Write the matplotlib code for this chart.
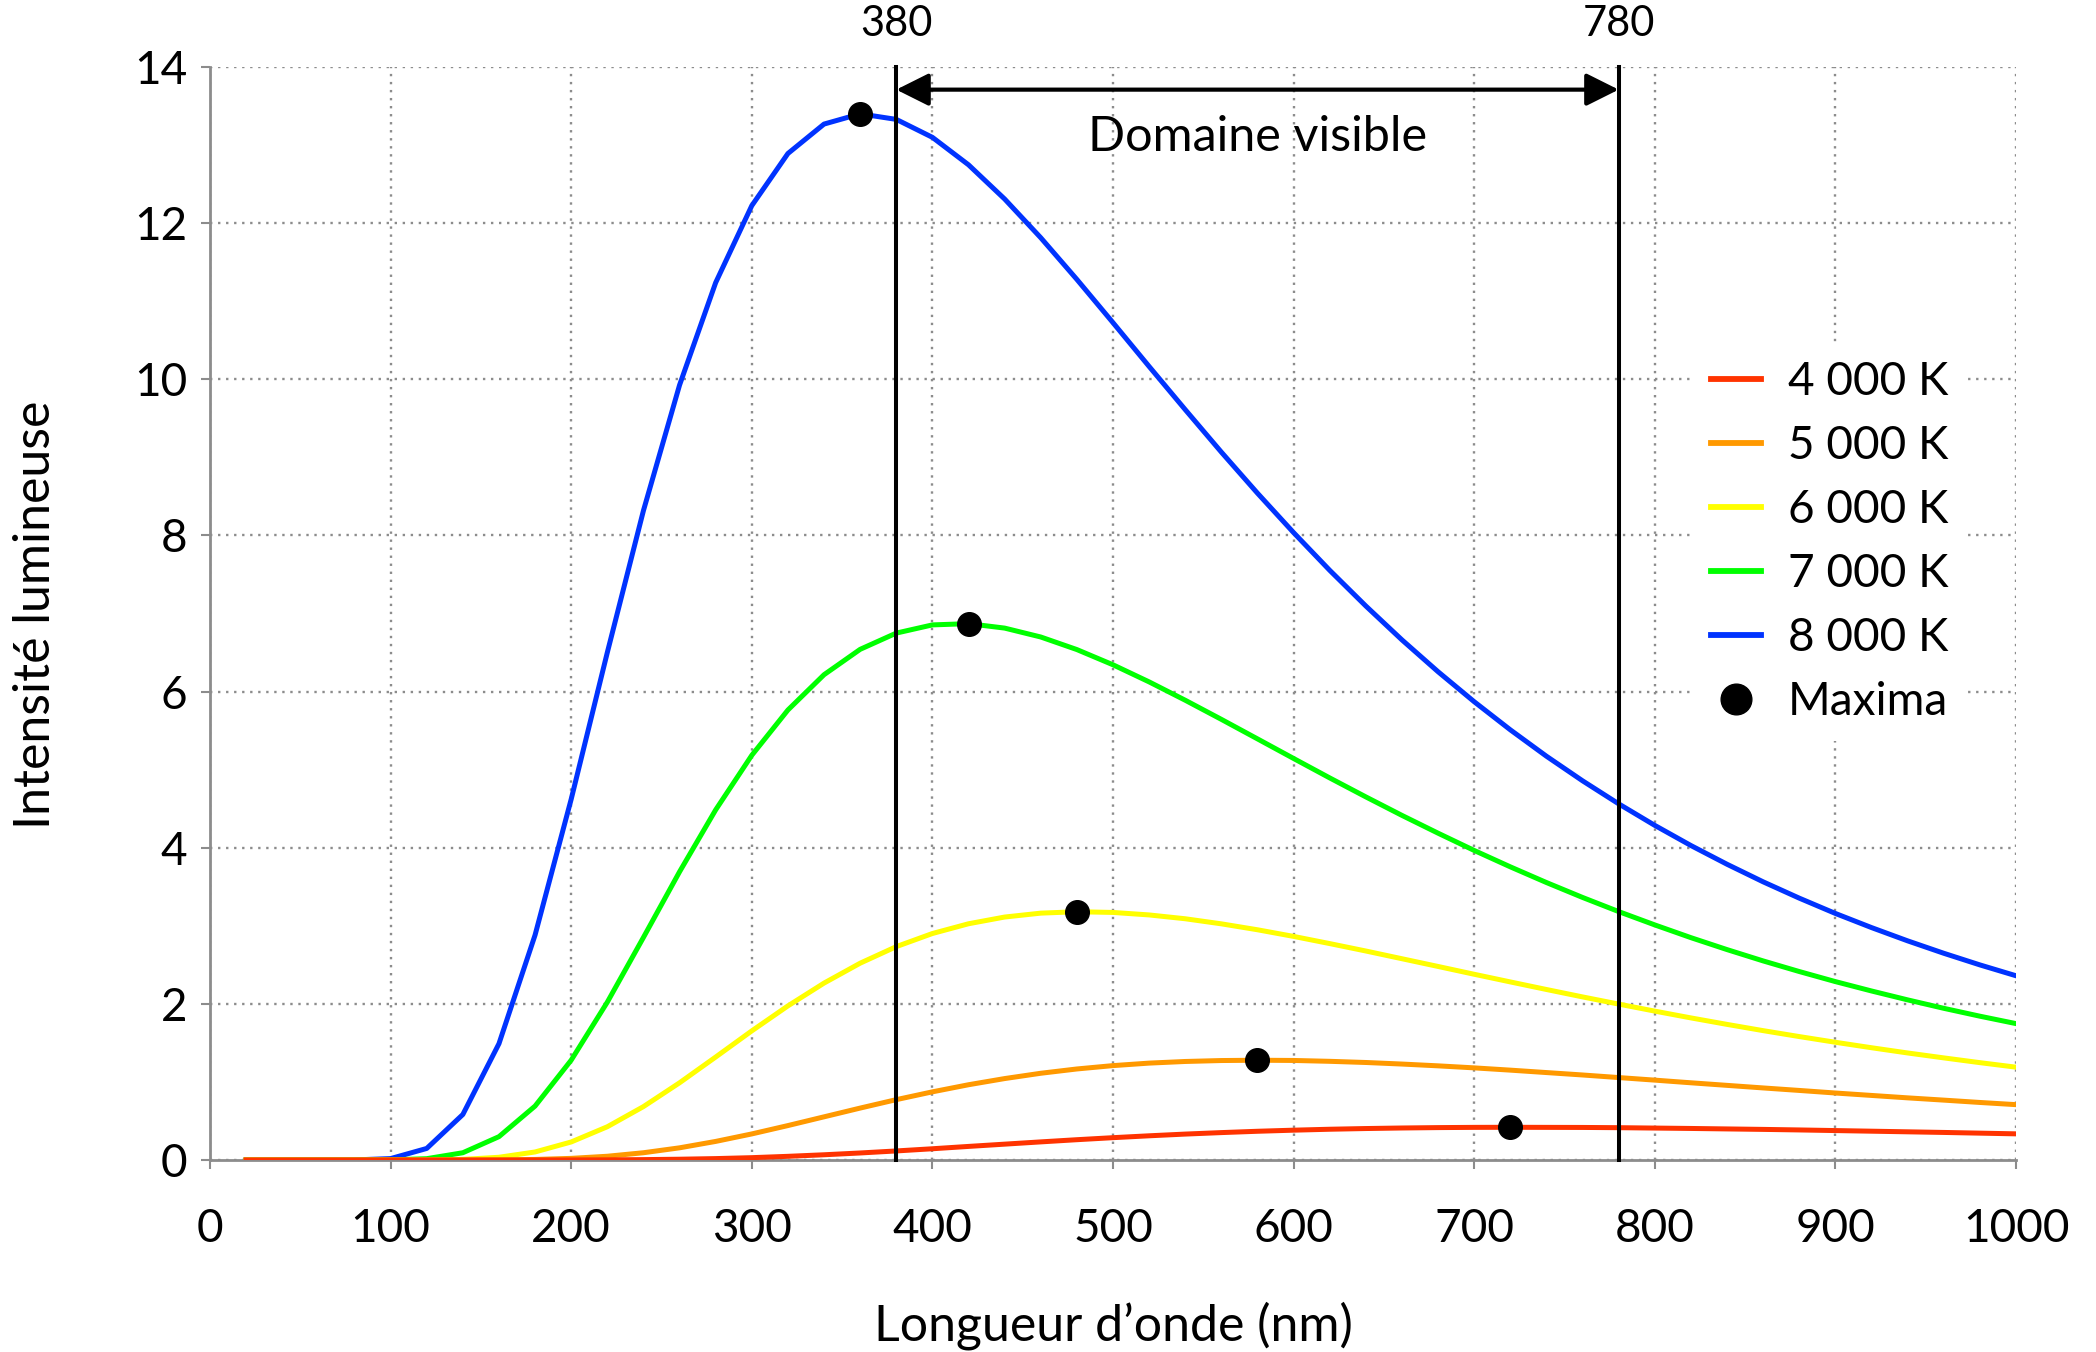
import matplotlib
matplotlib.use("Agg")
import matplotlib.pyplot as plt

plt.rcParams['font.family'] = ['Lato', 'DejaVu Sans']

wavelength = [20, 40, 60, 80, 100, 120, 140, 160, 180, 200, 220, 240, 260, 280, 300,
              320, 340, 360, 380, 400, 420, 440, 460, 480, 500, 520, 540, 560, 580, 600,
              620, 640, 660, 680, 700, 720, 740, 760, 780, 800, 820, 840, 860, 880, 900,
              920, 940, 960, 980, 1000]

i_4000 = [0, 0, 0, 0, 0, 0, 0, 0, 0, 0.001, 0.002, 0.005, 0.010, 0.018, 0.030,
          0.047, 0.067, 0.090, 0.116, 0.144, 0.174, 0.203, 0.232, 0.260, 0.286, 0.310, 0.332, 0.351, 0.368, 0.382,
          0.394, 0.403, 0.410, 0.415, 0.418, 0.419, 0.418, 0.417, 0.414, 0.409, 0.404, 0.398, 0.392, 0.385, 0.377,
          0.369, 0.361, 0.353, 0.344, 0.335]
i_5000 = [0, 0, 0, 0, 0, 0, 0.000, 0.002, 0.007, 0.021, 0.048, 0.093, 0.156, 0.238, 0.334,
          0.441, 0.553, 0.665, 0.773, 0.873, 0.964, 1.043, 1.111, 1.166, 1.209, 1.241, 1.262, 1.274, 1.278, 1.275,
          1.264, 1.249, 1.229, 1.206, 1.180, 1.151, 1.120, 1.089, 1.056, 1.023, 0.989, 0.956, 0.923, 0.891, 0.858,
          0.827, 0.796, 0.767, 0.737, 0.709]
i_6000 = [0, 0, 0, 0, 0, 0.001, 0.008, 0.035, 0.103, 0.231, 0.426, 0.684, 0.989, 1.319, 1.654,
          1.974, 2.266, 2.521, 2.733, 2.901, 3.026, 3.112, 3.162, 3.180, 3.171, 3.139, 3.090, 3.025, 2.949, 2.864,
          2.772, 2.677, 2.578, 2.479, 2.379, 2.281, 2.184, 2.089, 1.997, 1.907, 1.820, 1.737, 1.657, 1.581, 1.508,
          1.438, 1.371, 1.308, 1.247, 1.189]
i_7000 = [0, 0, 0, 0, 0.001, 0.017, 0.093, 0.299, 0.691, 1.279, 2.022, 2.851, 3.692, 4.485, 5.184,
          5.764, 6.216, 6.541, 6.749, 6.854, 6.870, 6.813, 6.699, 6.538, 6.343, 6.124, 5.889, 5.644, 5.394, 5.143,
          4.894, 4.651, 4.414, 4.186, 3.965, 3.755, 3.554, 3.363, 3.182, 3.011, 2.848, 2.695, 2.550, 2.414, 2.285,
          2.165, 2.051, 1.943, 1.842, 1.747]
i_8000 = [0, 0, 0, 0.001, 0.018, 0.148, 0.583, 1.490, 2.882, 4.622, 6.501, 8.318, 9.926, 11.238, 12.224,
          12.892, 13.269, 13.400, 13.329, 13.099, 12.747, 12.309, 11.813, 11.279, 10.725, 10.164, 9.611, 9.067, 8.541, 8.036,
          7.553, 7.096, 6.662, 6.254, 5.870, 5.510, 5.172, 4.857, 4.562, 4.286, 4.028, 3.788, 3.563, 3.354, 3.158,
          2.977, 2.807, 2.648, 2.499, 2.360]

series_labels = ['4 000 K', '5 000 K', '6 000 K', '7 000 K', '8 000 K']
series_values = [i_4000, i_5000, i_6000, i_7000, i_8000]
series_colors = ['#FF3300', '#FF9900', '#FFFF00', '#00FF00', '#0033FF']

max_x = [720, 580, 480, 420, 360]
max_y = [0.419, 1.278, 3.180, 6.870, 13.400]

visible_min = 380
visible_max = 780

x_ticks = [0, 100, 200, 300, 400, 500, 600, 700, 800, 900, 1000]
y_ticks = [0, 2, 4, 6, 8, 10, 12, 14]

fig = plt.figure(figsize=(20.96, 13.52), dpi=100)
ax = fig.add_axes([210/2096, 1-1160/1352, 1806/2096, 1093/1352])

grid_color = '#8c8c8c'
for s in ['top', 'right']:
    ax.spines[s].set_visible(False)
for s in ['left', 'bottom']:
    ax.spines[s].set_color(grid_color)
    ax.spines[s].set_linewidth(2)
    ax.spines[s].set_zorder(1)

ax.set_xlim(0, 1000)
ax.set_ylim(0, 14)
ax.set_xticks(x_ticks)
ax.set_yticks(y_ticks)
ax.tick_params(axis='both', direction='out', length=6.5, width=1.5, color=grid_color,
               labelsize=33, labelcolor='black')
ax.tick_params(axis='x', pad=28)
ax.tick_params(axis='y', pad=10)
ax.grid(True, color=grid_color, linestyle=(0, (1, 2.4)), linewidth=1.7, zorder=0)
ax.set_axisbelow(True)

base_z = [3.5, 3.4, 3.3, 3.2, 3.1]
for lab, vals, col, z in zip(series_labels, series_values, series_colors, base_z):
    ax.plot(wavelength, vals, color=col, lw=3.6, label=lab, zorder=z)

ax.plot(max_x, max_y, 'o', color='black', markersize=17, label='Maxima', zorder=6, linestyle='none')

# visible range lines
for v in [visible_min, visible_max]:
    ax.plot([v, v], [0, 14], color='black', lw=2.9, zorder=5, clip_on=False)
    ax.text(v, 14.55, str(v), ha='center', va='center', fontsize=30, clip_on=False)

ax.annotate('', xy=(visible_min, 13.71), xytext=(visible_max, 13.71),
            arrowprops=dict(arrowstyle='<|-|>', lw=3, color='black', mutation_scale=50,
                            shrinkA=0, shrinkB=0), zorder=6)
ax.text((visible_min + visible_max) / 2, 13.1, 'Domaine visible', ha='center', va='center', fontsize=35)

leg = ax.legend(loc='upper left', bbox_to_anchor=(0.821, 0.748), borderaxespad=0,
                fontsize=33, handlelength=1.1, handletextpad=0.57, labelspacing=0.48,
                frameon=True, fancybox=False, edgecolor='none', facecolor='white', framealpha=1,
                markerscale=1.3, borderpad=0.4)
for h in leg.get_lines():
    h.set_linewidth(4.2)
leg.set_zorder(10)

fig.text(1113/2096, 1-1326/1352, 'Longueur d\u2019onde (nm)', ha='center', va='center', fontsize=36)
fig.text(36/2096, 1-615/1352, 'Intensit\u00e9 lumineuse', ha='center', va='center', rotation=90, fontsize=36)

fig.savefig('out.png', dpi=100, facecolor='white')
